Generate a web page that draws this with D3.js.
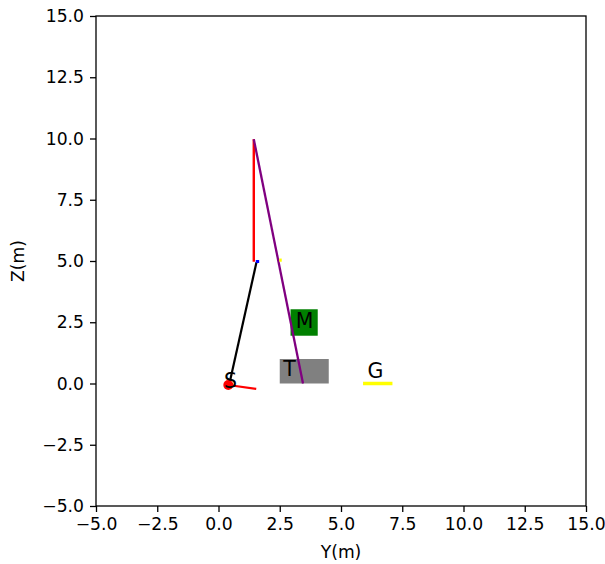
<!DOCTYPE html>
<html>
<head>
<meta charset="utf-8">
<script src="https://cdn.jsdelivr.net/npm/d3@7"></script>
<style>
  body { margin: 0; background: #fff; }
  svg { display: block; font-family: "DejaVu Sans", sans-serif; }
</style>
</head>
<body>
<svg id="chart" width="605" height="564"></svg>
<script>
// Axis extents and tick values (metres)
const yRange = [-5, 15];
const zRange = [-5, 15];
const tickValues = [-5, -2.5, 0, 2.5, 5, 7.5, 10, 12.5, 15];

// Line segments of the rig: [y1, z1, y2, z2]
const mastSeg    = [1.44, 4.97, 1.44, 9.97];   // red mast
const stayPurple = [1.44, 9.97, 3.45, 0.0];    // purple stay
const armBlack   = [0.47, 0.1, 1.55, 4.95];    // black arm
const footRed    = [0.4, -0.06, 1.54, -0.22];  // red foot
const blueMark   = [1.52, 4.98, 1.66, 4.98];
const yellowMark = [2.53, 4.97, 2.53, 5.1];
const groundG    = [5.9, 0.0, 7.1, 0.0];       // yellow ground strip

// Point S
const pointS = [0.4, -0.06];

// Boxes: [y0, z0, y1, z1]
const boxT = [2.5, 0.0, 4.5, 1.0];
const boxM = [2.94, 1.95, 4.05, 3.03];

// Labels: [text, y, z] (centre of the glyph)
const labels = [
  ["S", 0.49, 0.14],
  ["T", 2.9, 0.61],
  ["M", 3.51, 2.57],
  ["G", 6.41, 0.55]
];

const svg = d3.select("#chart");
const L = 96, R = 586, T = 16, B = 506;

const x = d3.scaleLinear().domain(yRange).range([L, R]);
const y = d3.scaleLinear().domain(zRange).range([B, T]);

const fmt = d3.format(".1f");
const tickFmt = v => fmt(v).replace("-", "\u2212");

// Boxes
const g = svg.append("g");
g.append("rect")
  .attr("x", x(boxT[0])).attr("y", y(boxT[3]))
  .attr("width", x(boxT[2]) - x(boxT[0]))
  .attr("height", y(boxT[1]) - y(boxT[3]))
  .attr("fill", "#808080");
g.append("rect")
  .attr("x", x(boxM[0])).attr("y", y(boxM[3]))
  .attr("width", x(boxM[2]) - x(boxM[0]))
  .attr("height", y(boxM[1]) - y(boxM[3]))
  .attr("fill", "#008000");

function seg(s, color, w, cap) {
  g.append("line")
    .attr("x1", x(s[0])).attr("y1", y(s[1]))
    .attr("x2", x(s[2])).attr("y2", y(s[3]))
    .attr("stroke", color).attr("stroke-width", w)
    .attr("stroke-linecap", cap || "butt");
}

seg(groundG, "#ffff00", 3.5);
seg(mastSeg, "#ff0000", 2.4);
seg(stayPurple, "#800080", 2.3);
seg(armBlack, "#000000", 2.2);
seg(footRed, "#ff0000", 2.2);
seg(blueMark, "#0000ff", 3);
seg(yellowMark, "#ffff00", 2.5);

g.append("circle")
  .attr("cx", x(pointS[0])).attr("cy", y(pointS[1]))
  .attr("r", 5).attr("fill", "#ff0000");

// Labels
g.selectAll("text.lbl").data(labels).join("text")
  .attr("class", "lbl")
  .attr("x", d => x(d[1]))
  .attr("y", d => y(d[2]) + 7.5)
  .attr("text-anchor", "middle")
  .attr("font-size", 20.5)
  .attr("fill", "#000")
  .text(d => d[0]);

// Axes
const xAxis = d3.axisBottom(x).tickValues(tickValues).tickFormat(tickFmt)
  .tickSizeInner(6).tickSizeOuter(0).tickPadding(6);
const yAxis = d3.axisLeft(y).tickValues(tickValues).tickFormat(tickFmt)
  .tickSizeInner(6).tickSizeOuter(0).tickPadding(6);

const ax = svg.append("g").attr("transform", `translate(0,${B})`).call(xAxis);
const ay = svg.append("g").attr("transform", `translate(${L},0)`).call(yAxis);
[ax, ay].forEach(a => {
  a.selectAll("text").attr("font-size", 17.2).attr("fill", "#000")
    .attr("font-family", "DejaVu Sans");
  a.selectAll("line").attr("stroke", "#000").attr("stroke-width", 1.3);
  a.select(".domain").remove();
});

// Frame
svg.append("rect")
  .attr("x", L).attr("y", T).attr("width", R - L).attr("height", B - T)
  .attr("fill", "none").attr("stroke", "#000").attr("stroke-width", 1.3);

// Axis titles
svg.append("text")
  .attr("x", (L + R) / 2).attr("y", 558)
  .attr("text-anchor", "middle").attr("font-size", 17.2)
  .text("Y(m)");
svg.append("text")
  .attr("transform", `translate(24,${(T + B) / 2}) rotate(-90)`)
  .attr("text-anchor", "middle").attr("font-size", 17.2)
  .text("Z(m)");
</script>
</body>
</html>
